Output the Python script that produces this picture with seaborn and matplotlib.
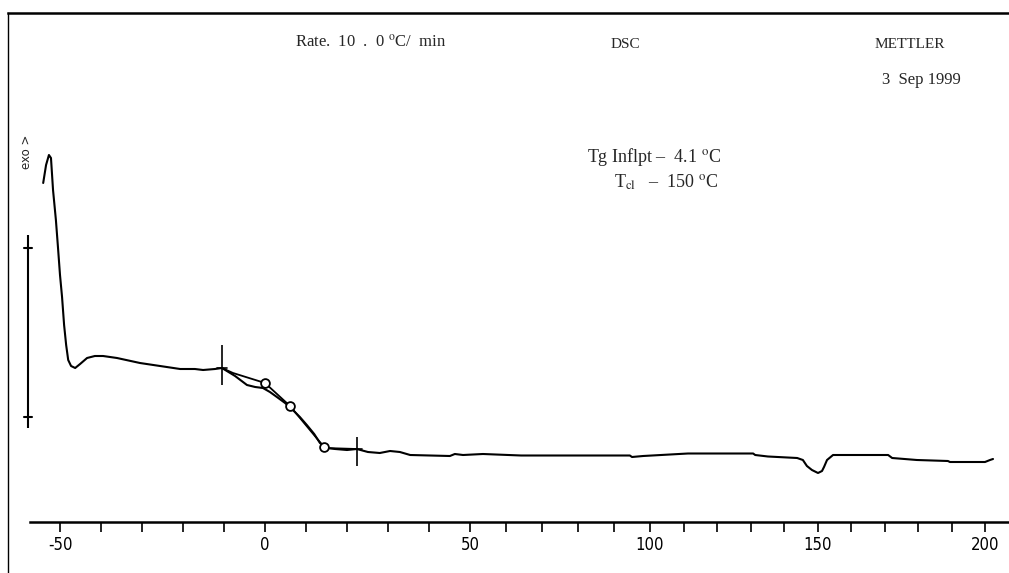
import numpy as np
import pandas as pd
import matplotlib
matplotlib.use("Agg")
import matplotlib.pyplot as plt
from matplotlib.ticker import FixedLocator
import seaborn as sns

# ---------------- data ----------------
temperature = [-54.1, -53.4, -52.7, -52.2, -51.7, -51.0, -50.5, -50.0, -49.5, -49.0,
               -48.5, -48.0, -47.3, -46.3, -45.1, -43.4, -41.5, -39.5, -36.1, -30.5,
               -25.6, -20.7, -17.1, -15.1, -12.2, -10.5, -7.3, -4.4, -2.4, -0.5,
               1.2, 2.9, 4.9, 6.8, 8.5, 10.2, 12.0, 13.4, 15.1, 17.1,
               20.0, 22.4, 25.1, 28.0, 30.5, 32.9, 35.4, 45.1, 46.3, 48.3,
               53.6, 64.2, 94.4, 95.0, 98.1, 111.3, 130.7, 131.3, 135.1, 143.8,
               145.5, 146.7, 148.2, 150.0, 151.2, 151.8, 152.7, 154.5, 171.0, 172.2,
               179.6, 188.9, 189.5, 200.0, 201.5, 202.4]
heat_flow = [6.78, 7.14, 7.34, 7.28, 6.64, 6.04, 5.50, 4.94, 4.50, 3.94,
             3.54, 3.24, 3.12, 3.08, 3.16, 3.28, 3.32, 3.32, 3.28, 3.18,
             3.12, 3.06, 3.06, 3.04, 3.06, 3.08, 2.92, 2.74, 2.70, 2.68,
             2.60, 2.50, 2.38, 2.24, 2.10, 1.94, 1.76, 1.58, 1.48, 1.46,
             1.44, 1.46, 1.40, 1.38, 1.42, 1.40, 1.34, 1.32, 1.36, 1.34,
             1.36, 1.33, 1.33, 1.30, 1.32, 1.37, 1.37, 1.34, 1.31, 1.28,
             1.24, 1.12, 1.04, 0.98, 1.02, 1.10, 1.24, 1.34, 1.34, 1.28,
             1.24, 1.22, 1.20, 1.20, 1.24, 1.26]

# Tg evaluation construction (tangent line, evaluation points, limits)
tangent_temp = [-10.5, -7.8, 0.0, 6.1, 14.6, 22.4]
tangent_hf = [3.08, 2.98, 2.78, 2.32, 1.48, 1.46]
point_temp = [0.0, 6.1, 14.4]
point_hf = [2.78, 2.32, 1.50]
limit_temp = [-10.5, 22.4]
limit_low = [2.74, 1.12]
limit_high = [3.54, 1.70]
limit_mid = [3.08, 1.46]

# vertical scale bar on the left
scalebar_temp = -57.8
scalebar_ends = [1.88, 5.74]
scalebar_marks = [2.10, 5.48]

tick_values = [-50, 0, 50, 100, 150, 200]
minor_values = list(range(-50, 201, 10))

# scanned abscissa is slightly compressed towards high temperature
ANCHOR_T = [-100, -50, 0, 50, 100, 150, 200, 300]
ANCHOR_P = [-145, 60, 265, 470, 650, 818, 985, 1319]


def fwd(t):
    return np.interp(t, ANCHOR_T, ANCHOR_P)


def inv(p):
    return np.interp(p, ANCHOR_P, ANCHOR_T)


# ---------------- figure ----------------
sns.set_style("white")
plt.rcParams['font.family'] = ['Liberation Serif', 'DejaVu Serif']
plt.rcParams['mathtext.fontset'] = 'stix'

W, H = 1009, 573
fig = plt.figure(figsize=(W / 100, H / 100), dpi=100)
ax = fig.add_axes([8 / W, 0, 1 - 8 / W, 1 - 13 / H])
ax.set_xscale('function', functions=(fwd, inv))
ax.set_xlim(inv(8), inv(1009))
ax.set_ylim(-1.02, 10.18)

df = pd.DataFrame({"T": temperature, "HF": heat_flow})
sns.lineplot(data=df, x="T", y="HF", ax=ax, color="black", lw=1.5, sort=False,
             estimator=None)
tdf = pd.DataFrame({"T": tangent_temp, "HF": tangent_hf})
sns.lineplot(data=tdf, x="T", y="HF", ax=ax, color="black", lw=1.3, sort=False,
             estimator=None)
pdf = pd.DataFrame({"T": point_temp, "HF": point_hf})
sns.scatterplot(data=pdf, x="T", y="HF", ax=ax, marker="o", s=40,
                facecolor="white", edgecolor="black", linewidth=1.3, zorder=5)
ax.vlines(limit_temp, limit_low, limit_high, color="black", lw=1.2)
for t, m in zip(limit_temp, limit_mid):
    ax.plot([t - 1.2, t + 1.2], [m, m], color="black", lw=1.2)

# scale bar
ax.vlines([scalebar_temp], [scalebar_ends[0]], [scalebar_ends[1]], color="black", lw=1.5)
for m in scalebar_marks:
    ax.plot([scalebar_temp - 1.0, scalebar_temp + 1.0], [m, m], color="black", lw=1.5)

# spines / axis
ax.spines["right"].set_visible(False)
ax.spines["left"].set_linewidth(1.0)
ax.spines["top"].set_linewidth(1.8)
ax.spines["bottom"].set_position(("data", 0.0))
ax.spines["bottom"].set_bounds(inv(30), inv(1009))
ax.spines["bottom"].set_linewidth(1.8)
for sp in ax.spines.values():
    sp.set_color("black")

ax.xaxis.set_major_locator(FixedLocator(tick_values))
ax.xaxis.set_minor_locator(FixedLocator(minor_values))
ax.set_xticklabels([str(v) for v in tick_values])
ax.tick_params(axis="x", which="both", direction="out", length=7, width=1.2,
               colors="black", bottom=True, top=False, pad=3)
for lab in ax.get_xticklabels():
    lab.set_family(['DejaVu Sans'])
    lab.set_stretch('condensed')
    lab.set_fontsize(12)
ax.set_yticks([])
ax.set_xlabel("")
ax.set_ylabel("")

# annotations
def ftext(x, y, s, **kw):
    fig.text(x / W, 1 - y / H, s, va="center", **kw)

ftext(295, 42, "Rate.  10  .  0 $^{\\rm o}$C/  min", fontsize=12)
ftext(625, 45, "DSC", fontsize=11, ha="center")
ftext(910, 45, "METTLER", fontsize=11, ha="center")
ftext(921, 80, "3  Sep 1999", fontsize=12, ha="center")
ftext(587, 157, "Tg Inflpt –  4.1 $^{\\rm o}$C", fontsize=13)
ftext(614, 182, "T$_{\\rm cl}$   –  150 $^{\\rm o}$C", fontsize=13)
ftext(27, 152, "exo >", fontsize=8.5, ha="center", rotation=90,
      family=['DejaVu Sans'])

fig.savefig("out.png", dpi=100, facecolor="white")
